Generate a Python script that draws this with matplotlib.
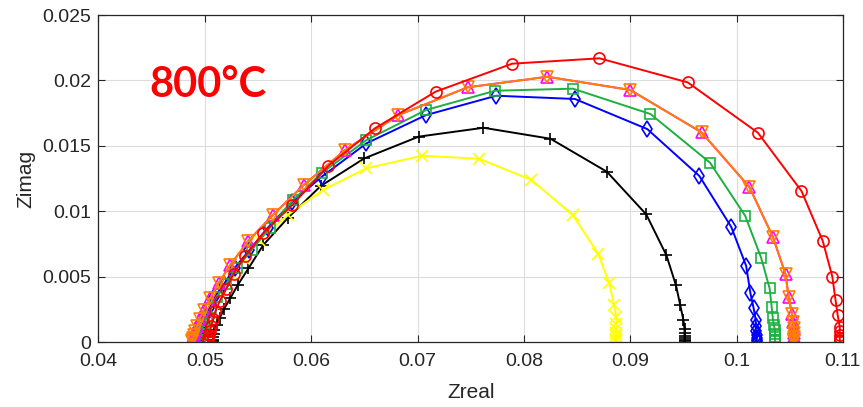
import numpy as np
import matplotlib
matplotlib.use("Agg")
import matplotlib.pyplot as plt
from matplotlib.ticker import FuncFormatter

# ----------------------------
# Nyquist data (Zreal, Zimag)
# ----------------------------

red_x = [0.0503, 0.0503, 0.0503, 0.0504, 0.0505, 0.0506, 0.0508, 0.0510, 0.0514, 0.0520,
         0.0527, 0.0538, 0.0555, 0.0582, 0.0616, 0.0660, 0.0717, 0.0789, 0.0871, 0.0954,
         0.1020, 0.1061, 0.1081, 0.1090, 0.1093, 0.1095, 0.1097, 0.1097, 0.1097, 0.1097,
         0.1097, 0.1097]
red_y = [0.00004, 0.00015, 0.00031, 0.00054, 0.00084, 0.00122, 0.00176, 0.00237, 0.00313, 0.00405,
         0.00520, 0.00657, 0.00833, 0.01046, 0.01346, 0.01634, 0.01914, 0.02128, 0.02169, 0.01985,
         0.01600, 0.01154, 0.00772, 0.00499, 0.00321, 0.00206, 0.00117, 0.00084, 0.00054, 0.00031,
         0.00015, 0.00004]

orange_x = [0.0488, 0.0488, 0.0489, 0.0490, 0.0491, 0.0493, 0.0495, 0.0499, 0.0505, 0.0513,
            0.0524, 0.0541, 0.0564, 0.0593, 0.0632, 0.0682, 0.0747, 0.0822, 0.0900, 0.0967,
            0.1012, 0.1034, 0.1046, 0.1049, 0.1052, 0.1053, 0.1054, 0.1054, 0.1054, 0.1054, 0.1054]
orange_y = [0.00004, 0.00015, 0.00031, 0.00054, 0.00084, 0.00122, 0.00176, 0.00245, 0.00336, 0.00451,
            0.00589, 0.00774, 0.00971, 0.01200, 0.01468, 0.01735, 0.01947, 0.02028, 0.01927, 0.01603,
            0.01185, 0.00805, 0.00518, 0.00342, 0.00214, 0.00153, 0.00107, 0.00069, 0.00038, 0.00015,
            0.00004]
# magenta run sits exactly under the orange one
magenta_x = list(orange_x)
magenta_y = list(orange_y)

green_x = [0.0494, 0.0494, 0.0495, 0.0496, 0.0497, 0.0499, 0.0502, 0.0506, 0.0511, 0.0520,
           0.0530, 0.0544, 0.0561, 0.0583, 0.0610, 0.0652, 0.0708, 0.0773, 0.0846, 0.0919,
           0.0975, 0.1008, 0.1023, 0.1031, 0.1033, 0.1034, 0.1035, 0.1036, 0.1036, 0.1036, 0.1036,
           0.1036]
green_y = [0.00004, 0.00015, 0.00038, 0.00061, 0.00092, 0.00138, 0.00191, 0.00260, 0.00344, 0.00443,
           0.00566, 0.00703, 0.00872, 0.01086, 0.01292, 0.01544, 0.01774, 0.01921, 0.01937, 0.01743,
           0.01371, 0.00966, 0.00645, 0.00411, 0.00265, 0.00183, 0.00130, 0.00092, 0.00061, 0.00038,
           0.00015, 0.00004]

blue_x = [0.0493, 0.0493, 0.0494, 0.0494, 0.0495, 0.0497, 0.0500, 0.0504, 0.0509, 0.0518,
          0.0528, 0.0542, 0.0559, 0.0582, 0.0610, 0.0652, 0.0708, 0.0774, 0.0848, 0.0916,
          0.0965, 0.0995, 0.1009, 0.1013, 0.1016, 0.1018, 0.1018, 0.1018, 0.1019, 0.1019, 0.1019,
          0.1019]
blue_y = [0.00004, 0.00015, 0.00038, 0.00061, 0.00092, 0.00138, 0.00191, 0.00260, 0.00344, 0.00443,
          0.00566, 0.00703, 0.00872, 0.01070, 0.01264, 0.01519, 0.01735, 0.01883, 0.01858, 0.01628,
          0.01269, 0.00879, 0.00581, 0.00372, 0.00258, 0.00168, 0.00122, 0.00084, 0.00054, 0.00031,
          0.00015, 0.00004]

black_x = [0.0508, 0.0508, 0.0508, 0.0509, 0.0509, 0.0511, 0.0514, 0.0518, 0.0524, 0.0531,
           0.0541, 0.0555, 0.0578, 0.0609, 0.0650, 0.0701, 0.0762, 0.0825, 0.0878, 0.0915,
           0.0934, 0.0943, 0.0947, 0.0950, 0.0951, 0.0951, 0.0951, 0.0951, 0.0951, 0.0951]
black_y = [0.00004, 0.00019, 0.00038, 0.00061, 0.00092, 0.00130, 0.00183, 0.00252, 0.00336, 0.00436,
           0.00563, 0.00742, 0.00948, 0.01193, 0.01404, 0.01570, 0.01638, 0.01554, 0.01302, 0.00976,
           0.00663, 0.00433, 0.00281, 0.00168, 0.00099, 0.00069, 0.00046, 0.00031, 0.00015, 0.00004]

yellow_x = [0.0494, 0.0494, 0.0495, 0.0496, 0.0498, 0.0501, 0.0505, 0.0509, 0.0516, 0.0525,
            0.0536, 0.0551, 0.0578, 0.0611, 0.0652, 0.0704, 0.0758, 0.0807, 0.0846, 0.0870,
            0.0880, 0.0885, 0.0887, 0.0887, 0.0887, 0.0887, 0.0887, 0.0887, 0.0887]
yellow_y = [0.00004, 0.00023, 0.00046, 0.00069, 0.00107, 0.00161, 0.00222, 0.00298, 0.00398, 0.00520,
            0.00642, 0.00780, 0.00971, 0.01162, 0.01328, 0.01424, 0.01401, 0.01239, 0.00971, 0.00673,
            0.00453, 0.00283, 0.00189, 0.00138, 0.00099, 0.00069, 0.00046, 0.00023, 0.00004]

x_ticks = [0.04, 0.05, 0.06, 0.07, 0.08, 0.09, 0.10, 0.11]
y_ticks = [0, 0.005, 0.01, 0.015, 0.02, 0.025]

# ----------------------------
# Plot
# ----------------------------

plt.rcParams['font.family'] = ['Liberation Sans', 'DejaVu Sans']

fig = plt.figure(figsize=(8.63, 4.07), dpi=100)
ax = fig.add_axes([0.1141, 0.1597, 0.8627, 0.8034])

lw = 1.4
ms = 8
ax.plot(black_x, black_y, '-+', color='black', lw=lw, ms=ms + 1, mew=1.2)
ax.plot(yellow_x, yellow_y, '-x', color='#FFFF00', lw=lw, ms=ms, mew=1.2)
ax.plot(blue_x, blue_y, '-d', color='#0000FF', lw=lw, ms=ms, mfc='none', mew=1.2)
ax.plot(green_x, green_y, '-s', color='#1DB040', lw=lw, ms=ms - 1, mfc='none', mew=1.2)
ax.plot(magenta_x, magenta_y, '-^', color='#FF00FF', lw=lw, ms=ms, mfc='none', mew=1.2)
ax.plot(orange_x, orange_y, '-v', color='#FF7F00', lw=lw, ms=ms, mfc='none', mew=1.2)
ax.plot(red_x, red_y, '-o', color='#FF0000', lw=lw, ms=ms, mfc='none', mew=1.2)

ax.set_xlim(0.04, 0.11)
ax.set_ylim(0, 0.025)
ax.set_xticks(x_ticks)
ax.set_yticks(y_ticks)
fmt = FuncFormatter(lambda v, p: '%g' % round(v, 4))
ax.xaxis.set_major_formatter(fmt)
ax.yaxis.set_major_formatter(fmt)

ax.grid(True, color='#dcdcdc', lw=0.8)
ax.set_axisbelow(True)
ax.tick_params(direction='in', length=5, width=0.8, colors='#262626', labelsize=14,
               top=True, right=True, labeltop=False, labelright=False)
ax.tick_params(axis='x', pad=8)
ax.tick_params(axis='y', pad=5)
for s in ax.spines.values():
    s.set_color('#262626')
    s.set_linewidth(0.9)

ax.set_xlabel('Zreal', fontsize=15, color='#262626', labelpad=9)
ax.set_ylabel('Zimag', fontsize=15, color='#262626', labelpad=5)

ax.text(0.069, 0.75, '800°C', transform=ax.transAxes, color='#FF0000',
        fontsize=30, fontweight='bold', family=['Lato', 'DejaVu Sans'])

plt.savefig("out.png", dpi=100)
